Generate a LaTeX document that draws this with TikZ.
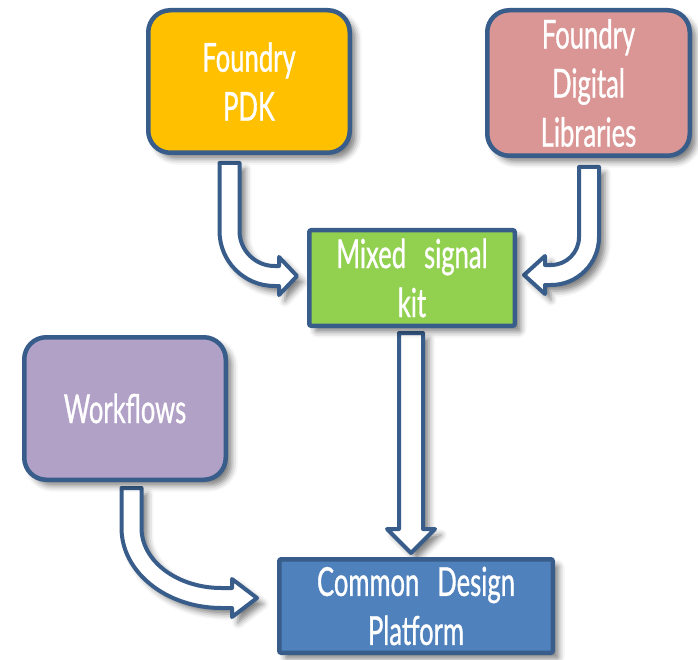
\documentclass[tikz,border=0pt]{standalone}
\usepackage{fontspec}
\setmainfont[FakeStretch=0.64,FakeBold=0.8]{Lato}
\usetikzlibrary{shadows.blur}
\definecolor{edge}{HTML}{385D8A}
\definecolor{pdkfill}{HTML}{FFC000}
\definecolor{libfill}{HTML}{DA9694}
\definecolor{kitfill}{HTML}{92D050}
\definecolor{wffill}{HTML}{B2A1C7}
\definecolor{cdpfill}{HTML}{4F81BD}
\newcommand{\wsp}{\hspace{0.45em}}
\begin{document}
\begin{tikzpicture}[x=1pt,y=-1pt,
  shade/.style={blur shadow={shadow xshift=6pt, shadow yshift=-6pt, shadow blur radius=6pt, shadow opacity=50}},
  box/.style={draw=edge, line width=4.5pt, text=white, align=center, inner sep=0pt,
    font=\fontsize{40}{49}\selectfont, shade},
  rbox/.style={box, rounded corners=22pt},
  sbox/.style={box, rounded corners=2pt},
  barrow/.style={draw=edge, line width=4pt, fill=white, line join=round, shade}]
\useasboundingbox (0,0) rectangle (698,660);

% block arrows
\path[barrow] (219.5,163) -- (219.5,231) .. controls (219.5,261.4) and (244.1,286) .. (274.5,286)
  -- (279,286) -- (279,295) -- (297,276) -- (279,257) -- (279,266) -- (274.5,266)
  .. controls (255.2,266) and (239.5,250.3) .. (239.5,231) -- (239.5,163) -- cycle;
\path[barrow] (599,167) -- (599,237) .. controls (599,263.5) and (577.5,285) .. (551,285)
  -- (545,285) -- (545,294) -- (524,275) -- (545,256) -- (545,265) -- (551,265)
  .. controls (566.5,265) and (579,252.5) .. (579,237) -- (579,167) -- cycle;
\path[barrow] (399,333) -- (399,529) -- (387,529) -- (411,553) -- (435,529) -- (423,529) -- (423,333) -- cycle;
\path[barrow] (121.5,488) -- (121.5,528) .. controls (121.5,572.2) and (166.3,608) .. (221.5,608)
  -- (232,608) -- (232,617) -- (257,598) -- (232,579) -- (232,588) -- (221.5,588)
  .. controls (177.3,588) and (141.5,561.1) .. (141.5,528) -- (141.5,488) -- cycle;

% boxes
\node[rbox, fill=pdkfill, minimum width=201.5pt, minimum height=142.5pt] (pdk) at (249,81.5) {Foundry\\PDK};
\node[rbox, fill=libfill, minimum width=202.5pt, minimum height=145.5pt] (lib) at (588.5,83) {Foundry\\Digital\\Libraries};
\node[sbox, fill=kitfill, minimum width=205.5pt, minimum height=95.5pt] (kit) at (412,278) {Mixed\wsp signal\\kit};
\node[rbox, fill=wffill, minimum width=201.5pt, minimum height=142.5pt] (wf) at (125,408.5) {Workflows};
\node[sbox, fill=cdpfill, minimum width=273.5pt, minimum height=93.5pt] (cdp) at (416,606) {Common\wsp Design\\Platform};
\end{tikzpicture}
\end{document}
